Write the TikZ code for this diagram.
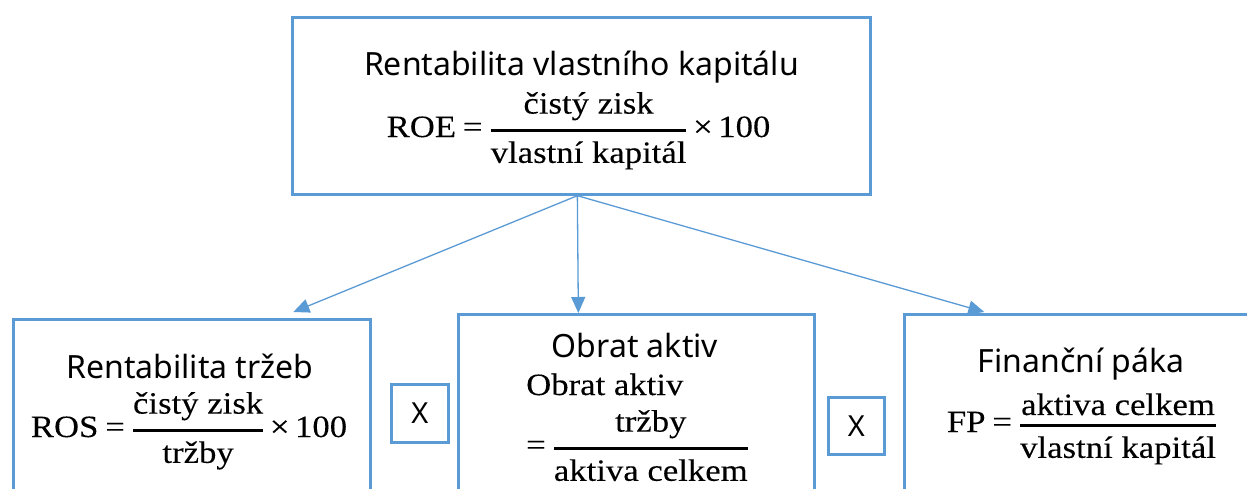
\documentclass[tikz,border=0pt]{standalone}
\usepackage{amsmath}
\usepackage{fontspec}
\setmainfont{Liberation Serif}[FakeStretch=1.12, FakeBold=0.15]
\newfontfamily\uisans{Noto Sans}
\usetikzlibrary{arrows.meta}
\definecolor{bl}{HTML}{5B9BD5}
\tikzset{
  boxn/.style={draw=bl, line width=2.7pt, rectangle, inner sep=0pt, anchor=north west},
  ttl/.style={font=\uisans\fontsize{32}{38}\selectfont, anchor=base, inner sep=0pt},
  eqn/.style={font=\fontsize{31}{37}\selectfont, anchor=base, inner sep=0pt},
  arr/.style={draw=bl, line width=1.3pt, -{Triangle[length=16pt,width=14pt]}},
}
\newcommand{\fr}[2]{\genfrac{}{}{3pt}{0}{\text{#1}}{\text{#2}}}
\newcommand{\eqs}{\mathrel{\text{=}}}
\newcommand{\tms}{\mathbin{\text{×}}}
\begin{document}
\begin{tikzpicture}[x=1pt,y=-1pt]
\clip (0,0) rectangle (1247,488);
\fill[white] (0,0) rectangle (1247,488);
% boxes
\node[boxn, minimum width=578pt, minimum height=177pt] (roe) at (291,16) {};
\node[boxn, minimum width=357pt, minimum height=300pt] (ros) at (12,318) {};
\node[boxn, minimum width=356pt, minimum height=300pt] (oa) at (457,313) {};
\node[boxn, minimum width=400pt, minimum height=300pt] (fp) at (903,313) {};
\node[boxn, minimum width=57pt, minimum height=58pt, font=\uisans\fontsize{29}{34}\selectfont] (x1) at (390,383) {X};
\node[boxn, minimum width=56pt, minimum height=57pt, font=\uisans\fontsize{29}{34}\selectfont] (x2) at (827,396) {X};
% texts
\node[ttl] (troe) at (581.5,75) {Rentabilita vlastního kapitálu};
\node[eqn] (eroe) at (578.5,137) {$\text{ROE}\eqs\fr{čistý zisk}{vlastní kapitál}\tms\text{100}$};
\node[ttl] (tros) at (190,378) {Rentabilita tržeb};
\node[eqn] (eros) at (189,437) {$\text{ROS}\eqs\fr{čistý zisk}{tržby}\tms\text{100}$};
\node[ttl] (toa) at (635,357) {Obrat aktiv};
\node[eqn, anchor=base west] (eoa1) at (526,395) {Obrat aktiv};
\node[eqn, anchor=base west] (eoa2) at (526,455) {$\eqs\fr{tržby}{aktiva celkem}$};
\node[ttl] (tfp) at (1081,372) {Finanční páka};
\node[eqn] (efp) at (1082,432) {$\text{FP}\eqs\fr{aktiva celkem}{vlastní kapitál}$};
% arrows
\draw[arr] ([xshift=-4pt]roe.south) -- ([xshift=101.5pt,yshift=6pt]ros.north);
\draw[arr] ([xshift=-4pt]roe.south) -- ([xshift=-58pt]oa.north);
\draw[arr] ([xshift=-4pt]roe.south) -- ([xshift=-120pt,yshift=1pt]fp.north);
\end{tikzpicture}
\end{document}
